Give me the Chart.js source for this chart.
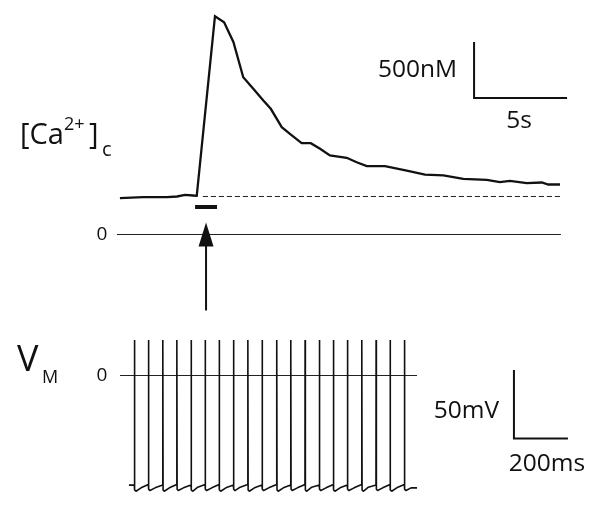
<!DOCTYPE html>
<html><head><meta charset="utf-8">
<script src="https://cdn.jsdelivr.net/npm/chart.js@4/dist/chart.umd.min.js"></script>
<style>html,body{margin:0;padding:0;background:#fff}#wrap{width:600px;height:513px}</style>
</head><body><div id="wrap"><canvas id="c" width="600" height="513"></canvas></div>
<script>
// ---------- Cytosolic calcium trace (time in s, concentration in nM) ----------
const caTime = [-4.09,-2.85,-1.56,-1.02,-0.59,-0.16,0.04,1.02,1.51,2.01,2.54,3.08,3.62,4.02,4.61,5.05,5.68,6.17,6.67,7.2,8.1,8.64,9.18,10.16,11.33,12.31,13.3,14.37,15.63,16.34,16.88,17.78,18.59,18.94,19.57];
const caConc = [85,94,94,100,115,109,106,1710,1656,1480,1165,1062,957,883,719,660,576,576,526,466,446,406,371,371,332,296,288,258,249,228,240,219,225,207,207];
const caBaseline = 100;            // nM, dashed resting level
const baselineSpan = [0.37, 19.6]; // s
const stimSpan = [-0.05, 1.13];    // s, stimulus bar
const stimZeroSpan = [-4.25, 19.62];
const caBar = {t: 14.95, c: 980, dt: 5, dc: 500};

// ---------- Membrane potential (time in ms, mV) ----------
const spikeTimes = [16,68,121,173,226,278,330,383,436,489,543,595,648,701,753,805,858,911,963,1016];
const spikePeak  = [26,26,26,26,26,26,26,26,26,26,26,26,26,26,26,26,26,26,26,26];
const preSpikeV  = [-80,-79.5,-80,-79.5,-80,-79.5,-79.5,-80,-79.5,-80,-79.5,-80,-79.5,-80,-79.5,-80,-79.5,-80,-79.5,-79.5];
const troughV    = [-84.5,-84,-84.5,-84,-84.5,-84,-84.5,-84,-84.5,-84,-84.5,-84,-84.5,-84,-84.5,-84,-84.5,-84,-84.5,-84];
const afterV     = [-82,-82,-82,-82,-81.5,-82,-82,-81.5,-82,-82,-82,-82,-81.5,-82,-82,-82,-81.5,-82,-82,-82];
const vmStart = {t: -4, v: -80};
const vmEnd = {t: 1063, v: -82};
const vmZeroSpan = [-37, 1063];
const vmBar = {t: 1422, v: -46, dt: 200, dv: 50};

// ---------- build datasets ----------
const caPts = caTime.map((t,i)=>({x:t, y:caConc[i]}));
const vmPts = [{x:vmStart.t, y:vmStart.v}];
spikeTimes.forEach((t,i)=>{
  vmPts.push({x:t, y:preSpikeV[i]});
  vmPts.push({x:t+0.5, y:spikePeak[i]});
  vmPts.push({x:t+1.5, y:troughV[i]+1});
  vmPts.push({x:t+6, y:troughV[i]});
  vmPts.push({x:t+25, y:afterV[i]});
});
vmPts.push({x:vmEnd.t, y:vmEnd.v});

const W = 600, H = 513;
function fitX(px, val, ppu){ return {min: val - px/ppu, max: val + (W-px)/ppu}; }
function fitY(py, val, ppu){ return {min: val - (H-py)/ppu, max: val + py/ppu}; }
const hid = {type:'linear', display:false};

const ink = '#111';
const annot = {
  id:'annot',
  afterDatasetsDraw(chart){
    const {ctx, scales} = chart;
    const xs = scales.xCa, ys = scales.yStim;
    ctx.save();
    // arrow from Vm to stimulus
    const ax = xs.getPixelForValue((stimSpan[0]+stimSpan[1])/2);
    const tip = ys.getPixelForValue(0) - 12;
    ctx.fillStyle = ink; ctx.strokeStyle = ink; ctx.lineWidth = 2;
    ctx.beginPath(); ctx.moveTo(ax, tip+20); ctx.lineTo(ax, tip+88); ctx.stroke();
    ctx.beginPath(); ctx.moveTo(ax, tip); ctx.lineTo(ax-7.5, tip+24); ctx.lineTo(ax+7.5, tip+24); ctx.closePath(); ctx.fill();
    // text
    ctx.fillStyle = '#111';
    ctx.textBaseline = 'alphabetic';
    const F = '"Open Sans"';
    ctx.textAlign='left';
    ctx.font = '29px '+F; ctx.fillText('[Ca', 20, 144);
    ctx.font = '18px '+F; ctx.fillText('2+', 64, 129.5);
    ctx.font = '29px '+F; ctx.fillText(']', 89, 144);
    ctx.font = '20px '+F; ctx.fillText('c', 102, 156);
    ctx.font = '36px '+F; ctx.fillText('V', 17, 371);
    ctx.font = '18px '+F; ctx.fillText('M', 42, 383);
    ctx.textBaseline = 'middle'; ctx.textAlign = 'center';
    ctx.font = '19px '+F;
    ctx.fillText('0', 102, ys.getPixelForValue(0));
    ctx.fillText('0', 102, scales.yVm.getPixelForValue(0));
    ctx.font = '24.5px '+F;
    ctx.textAlign = 'right';
    ctx.fillText('500nM', 457, 70);
    ctx.fillText('50mV', 499, 411);
    ctx.textAlign = 'center';
    ctx.fillText('5s', 519, 121);
    ctx.fillText('200ms', 547, 464);
    ctx.restore();
  }
};

new Chart(document.getElementById('c'), {
  type:'line',
  data:{datasets:[
    {data:caPts, xAxisID:'xCa', yAxisID:'yCa', borderColor:ink, borderWidth:2.3},
    {data:[{x:baselineSpan[0],y:caBaseline},{x:baselineSpan[1],y:caBaseline}], xAxisID:'xCa', yAxisID:'yCa', borderColor:'#222', borderWidth:1.2, borderDash:[5,3]},
    {data:[{x:stimSpan[0],y:1},{x:stimSpan[1],y:1}], xAxisID:'xCa', yAxisID:'yStim', borderColor:ink, borderWidth:4},
    {data:[{x:stimZeroSpan[0],y:0},{x:stimZeroSpan[1],y:0}], xAxisID:'xCa', yAxisID:'yStim', borderColor:'#222', borderWidth:1},
    {data:[{x:caBar.t,y:caBar.c+caBar.dc},{x:caBar.t,y:caBar.c},{x:caBar.t+caBar.dt,y:caBar.c}], xAxisID:'xCa', yAxisID:'yCa', borderColor:ink, borderWidth:2, borderJoinStyle:'miter'},
    {data:vmPts, xAxisID:'xVm', yAxisID:'yVm', borderColor:ink, borderWidth:1.6, borderJoinStyle:'bevel'},
    {data:[{x:vmZeroSpan[0],y:0},{x:vmZeroSpan[1],y:0}], xAxisID:'xVm', yAxisID:'yVm', borderColor:'#222', borderWidth:1},
    {data:[{x:vmBar.t,y:vmBar.v+vmBar.dv},{x:vmBar.t,y:vmBar.v},{x:vmBar.t+vmBar.dt,y:vmBar.v}], xAxisID:'xVm', yAxisID:'yVm', borderColor:ink, borderWidth:2, borderJoinStyle:'miter'}
  ]},
  options:{
    responsive:false, animation:false, devicePixelRatio:1, events:[],
    layout:{padding:0},
    elements:{point:{radius:0}, line:{tension:0, fill:false, borderCapStyle:'butt'}},
    plugins:{legend:{display:false}, tooltip:{enabled:false}, title:{display:false}},
    scales:{
      xCa:{...hid, position:'bottom', ...fitX(196, 0, 18.6)},
      yCa:{...hid, position:'left', ...fitY(196.5, caBaseline, 0.112)},
      yStim:{...hid, position:'left', ...fitY(234.5, 0, 27.5)},
      xVm:{...hid, position:'bottom', ...fitX(130, 0, 0.27)},
      yVm:{...hid, position:'left', ...fitY(375.5, 0, 1.37)}
    }
  },
  plugins:[annot]
});
</script></body></html>
